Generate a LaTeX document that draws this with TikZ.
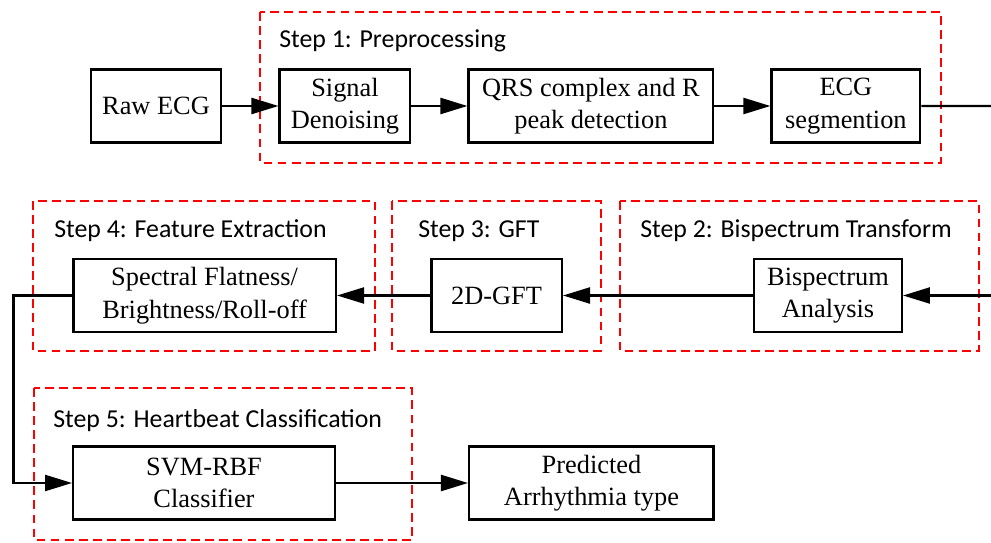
\documentclass[tikz,border=0pt]{standalone}
\usepackage{fontspec}
\setmainfont{Liberation Serif}
\newfontfamily\stepfont{Carlito}
\usetikzlibrary{arrows.meta,
                chains,
                positioning
                }

\begin{document}
\begin{tikzpicture}[node distance = 5mm and 11.2mm,
          start chain = going right,
      box/.style = {draw, line width=1.4pt, minimum height=14.6mm, inner sep=2pt,
                    align=center, font=\fontsize{15}{18.5}\selectfont},
    frame/.style = {draw=red, line width=0.7pt, dash pattern=on 5pt off 3pt},
      stp/.style = {anchor=base west, inner sep=0pt,
                    font=\stepfont\fontsize{14.7}{16}\selectfont},
      arr/.style = {line width=1.3pt, -{Triangle[length=5.4mm, width=3.2mm]}}
      ]
\useasboundingbox (0,0) rectangle (19.82,-10.86);
% step frames
    \draw[frame] (5.20,-0.24) rectangle (18.82,-3.26);
    \draw[frame] (0.66,-4.02) rectangle (7.50,-7.02);
    \draw[frame] (7.84,-4.02) rectangle (12.02,-7.02);
    \draw[frame] (12.40,-4.02) rectangle (19.58,-7.02);
    \draw[frame] (0.68,-7.76) rectangle (8.24,-10.80);
    \node (s1) [stp] at (5.58,-0.96) {Step 1: Preprocessing};
    \node (s4) [stp] at (1.08,-4.76) {Step 4: Feature Extraction};
    \node (s3) [stp] at (8.36,-4.76) {Step 3: GFT};
    \node (s2) [stp] at (12.80,-4.76) {Step 2: Bispectrum Transform};
    \node (s5) [stp] at (1.06,-8.56) {Step 5: Heartbeat Classification};
% first row
    \begin{scope}[xshift=3.12cm, yshift=-2.12cm,
                  every node/.append style={on chain, join=by arr}]
        \node (raw) [box, minimum width=26.1mm] {Raw ECG};
        \node (den) [box, minimum width=26.1mm] {Signal\\ Denoising};
        \node (qrs) [box, minimum width=48.9mm] {QRS complex and R\\ peak detection};
        \node (seg) [box, minimum width=29.7mm] {ECG\\ segmention};
    \end{scope}
% second row
    \node (bis)  [box, minimum width=29.5mm] at (16.56,-5.91) {Bispectrum\\ Analysis};
    \node (gft)  [box, minimum width=26.1mm, left=38mm of bis] {2D-GFT};
    \node (spec) [box, minimum width=52.5mm, left=18.6mm of gft] {Spectral Flatness/\\ Brightness/Roll-off};
% third row
    \node (svm)  [box, minimum width=52.3mm] at (4.08,-9.66) {SVM-RBF\\ Classifier};
    \node (pred) [box, minimum width=48.9mm, right=26.4mm of svm] {Predicted\\ Arrhythmia type};
% connectors
    \coordinate (outR) at (19.82,-2.12);
    \coordinate (inR)  at (19.82,-5.91);
    \coordinate (bend) at (0.27,-5.91);
    \draw[line width=1.3pt] (seg) -- (outR);
    \draw[arr] (inR) -- (bis);
    \draw[arr] (bis) -- (gft);
    \draw[arr] (gft) -- (spec);
    \draw[arr] (spec.west) -- (bend) |- (svm.west);
    \draw[arr] (svm) -- (pred);
\end{tikzpicture}
\end{document}
